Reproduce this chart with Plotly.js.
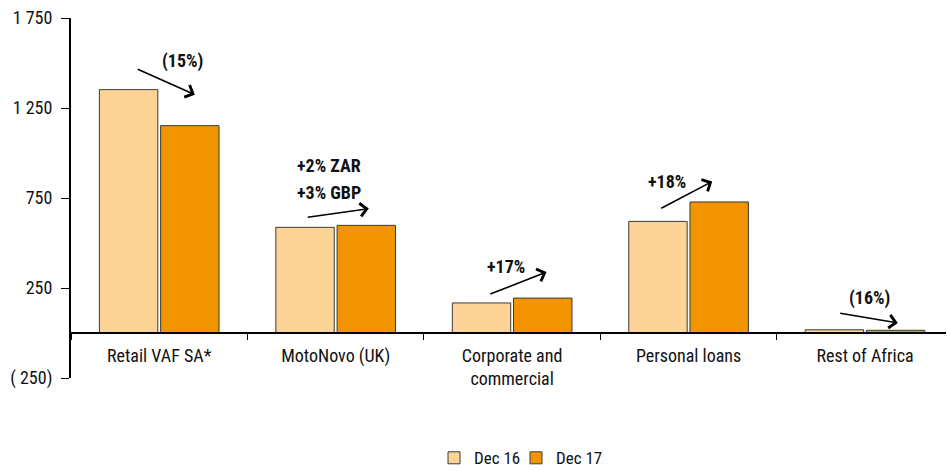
<!DOCTYPE html>
<html><head><meta charset="utf-8">
<script src="https://cdn.plot.ly/plotly-3.0.1.min.js"></script>
<style>html,body{margin:0;padding:0;background:#fff}#chart{width:947px;height:470px}</style>
</head><body><div id="chart"></div>
<script>
const categories = ["Retail VAF SA*", "MotoNovo (UK)", "Corporate and<br>commercial", "Personal loans", "Rest of Africa"];
const dec16 = [1352, 587, 167, 620, 18];
const dec17 = [1152, 598, 194, 728, 15];
const yTickVals = [-250, 250, 750, 1250, 1750];
const yTickText = ["( 250)", "250", "750", "1 250", "1 750"];
const changeLabels = ["(15%)", "+2% ZAR", "+3% GBP", "+17%", "+18%", "(16%)"];

const FONT = "'Roboto Condensed', 'Liberation Sans Narrow', 'Arial Narrow', 'Liberation Sans', sans-serif";

const traces = [
  {type: "bar", name: "Dec 16", x: categories, y: dec16, legend: "legend",
   marker: {color: "#FDD496", line: {color: "#3a3a3a", width: 1}}},
  {type: "bar", name: "Dec 17", x: categories, y: dec17, legend: "legend2",
   marker: {color: "#F29400", line: {color: "#3a3a3a", width: 1}}}
];

function arrow(tx, ty, hx, hy) {
  return {xref: "x", yref: "y", axref: "x", ayref: "y", x: hx, y: hy, ax: tx, ay: ty,
    text: "", showarrow: true, arrowhead: 4, arrowsize: 1.6, arrowwidth: 1.6, arrowcolor: "#000"};
}
function label(t, x, y) {
  return {xref: "x", yref: "y", x: x, y: y, text: "<b>" + t + "</b>", showarrow: false,
    font: {family: FONT, size: 18, color: "#111"}};
}

const annotations = [
  arrow(-0.13, 1469, 0.202, 1324), label(changeLabels[0], 0.13, 1509),
  arrow(0.833, 642, 1.188, 691), label(changeLabels[1], 0.961, 929), label(changeLabels[2], 0.961, 778),
  arrow(1.868, 213, 2.195, 339), label(changeLabels[3], 1.968, 370),
  arrow(2.837, 689, 3.134, 842), label(changeLabels[4], 2.875, 842),
  arrow(3.851, 111, 4.186, 56), label(changeLabels[5], 4.027, 194)
];

const legendBase = {orientation: "h", xref: "container", yref: "container",
  xanchor: "left", y: 0.025, yanchor: "middle", bgcolor: "rgba(0,0,0,0)",
  font: {family: FONT, size: 17, color: "#111"}, itemwidth: 30};

const layout = {
  width: 947, height: 470,
  margin: {l: 71, r: 1, t: 18, b: 92},
  paper_bgcolor: "#fff", plot_bgcolor: "#fff",
  font: {family: FONT, size: 18, color: "#111"},
  barmode: "group", bargap: 0.306, bargroupgap: 0.046,
  showlegend: true,
  legend: Object.assign({}, legendBase, {x: 434 / 947}),
  legend2: Object.assign({}, legendBase, {x: 516 / 947}),
  xaxis: {type: "category", anchor: "free", position: 0.125, range: [-0.5, 4.459],
    showline: true, linecolor: "#000", linewidth: 2,
    ticks: "outside", ticklen: 6, tickcolor: "#000", tickwidth: 1, tickson: "boundaries",
    ticklabelstandoff: 6,
    showgrid: false, zeroline: false, tickangle: 0,
    tickfont: {family: FONT, size: 18, color: "#111"}},
  yaxis: {range: [-250, 1750], tickvals: yTickVals, ticktext: yTickText,
    showline: true, linecolor: "#000", linewidth: 2,
    ticks: "outside", ticklen: 8, tickcolor: "#000", tickwidth: 1,
    ticklabelstandoff: 5,
    showgrid: false, zeroline: false,
    tickfont: {family: FONT, size: 18, color: "#111"}},
  annotations: annotations
};

Plotly.newPlot("chart", traces, layout, {displayModeBar: false, staticPlot: true});
</script>
</body></html>
